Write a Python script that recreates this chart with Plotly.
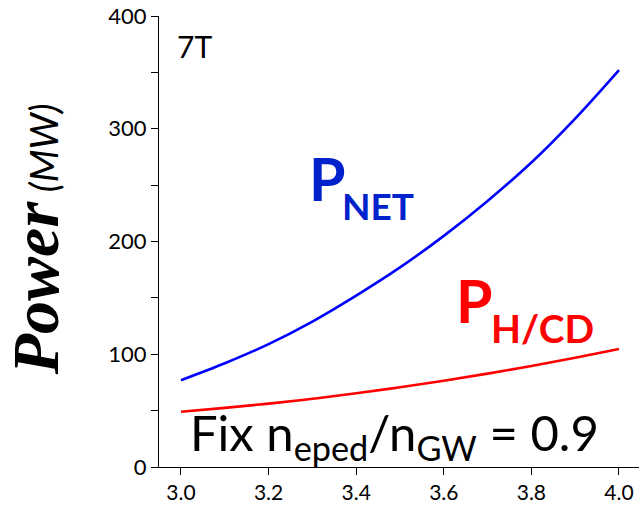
import plotly.graph_objects as go

x_vals = [3.0, 3.1, 3.2, 3.3, 3.4, 3.5, 3.6, 3.7, 3.8, 3.9, 4.0]
p_net = [77, 92, 109, 129, 152, 177, 205, 236, 270, 309, 352]
p_hcd = [49, 52.4, 56.2, 60.5, 65.4, 70.7, 76.5, 82.8, 89.6, 96.9, 104.7]

x_ticks = [3.0, 3.2, 3.4, 3.6, 3.8, 4.0]
x_ticklabels = ["3.0", "3.2", "3.4", "3.6", "3.8", "4.0"]
y_ticks = [0, 100, 200, 300, 400]

FONT = "Lato"

fig = go.Figure()
fig.add_trace(go.Scatter(x=x_vals, y=p_net, mode="lines", line=dict(color="#0000ff", width=2.6, shape="spline"), showlegend=False))
fig.add_trace(go.Scatter(x=x_vals, y=p_hcd, mode="lines", line=dict(color="#ff0000", width=2.6, shape="spline"), showlegend=False))

fig.update_layout(
    width=639, height=505,
    margin=dict(l=159, r=0, t=16, b=38),
    paper_bgcolor="white", plot_bgcolor="white",
    font=dict(family=FONT, color="black"),
    xaxis=dict(range=[2.9498, 4.0457], tickvals=x_ticks, ticktext=x_ticklabels,
               showgrid=False, zeroline=False, showline=True, linecolor="black", linewidth=1.2,
               ticks="outside", ticklen=7, tickcolor="black", tickfont=dict(size=21, family=FONT),
               ticklabeloverflow="allow"),
    yaxis=dict(range=[0, 400], tickvals=y_ticks, showgrid=False, zeroline=False,
               showline=True, linecolor="black", linewidth=1.2,
               ticks="outside", ticklen=7, tickcolor="black", tickfont=dict(size=22, family=FONT),
               ticklabeloverflow="allow",
               minor=dict(dtick=50, ticks="outside", ticklen=7, tickcolor="black", showgrid=False)),
)

BLUE_TXT = "#0022cc"
RED_TXT = "#ff0000"

fig.add_annotation(xref="x", yref="y", x=3.030, y=373, text="7T", showarrow=False,
                   font=dict(size=30, family=FONT, color="black"))
# P_NET label (main letter + subscript)
fig.add_annotation(xref="x", yref="y", x=3.288, y=256, xanchor="left", yanchor="middle", text="<b>P</b>",
                   showarrow=False, font=dict(size=59, family=FONT, color=BLUE_TXT))
fig.add_annotation(xref="x", yref="y", x=3.363, y=232, xanchor="left", yanchor="middle", text="<b>NET</b>",
                   showarrow=False, font=dict(size=37, family=FONT, color=BLUE_TXT))
# P_H/CD label
fig.add_annotation(xref="x", yref="y", x=3.624, y=148, xanchor="left", yanchor="middle", text="<b>P</b>",
                   showarrow=False, font=dict(size=59, family=FONT, color=RED_TXT))
fig.add_annotation(xref="x", yref="y", x=3.703, y=123, xanchor="left", yanchor="middle", text="<b>H/CD</b>",
                   showarrow=False, font=dict(size=39, family=FONT, color=RED_TXT))
fig.add_annotation(xref="x", yref="y", x=3.488, y=28, text="Fix n<sub>eped</sub>/n<sub>GW</sub> = 0.9", showarrow=False,
                   font=dict(size=49, family=FONT, color="black"))
fig.add_annotation(xref="paper", yref="paper", x=0, y=0.505, xanchor="center", yanchor="middle", xshift=-124,
                   textangle=-90, showarrow=False,
                   text="<span style='font-family:Liberation Serif;font-size:66px'><b><i>Power</i></b></span> <span style='font-size:38px'><i>(MW)</i></span>",
                   font=dict(size=38, family=FONT, color="black"))

# remove the default page margin so the 639x505 figure fills the window exactly
fig.write_html("out.html", config={"displayModeBar": False},
               post_script="document.body.style.margin='0';document.body.style.overflow='hidden';")
